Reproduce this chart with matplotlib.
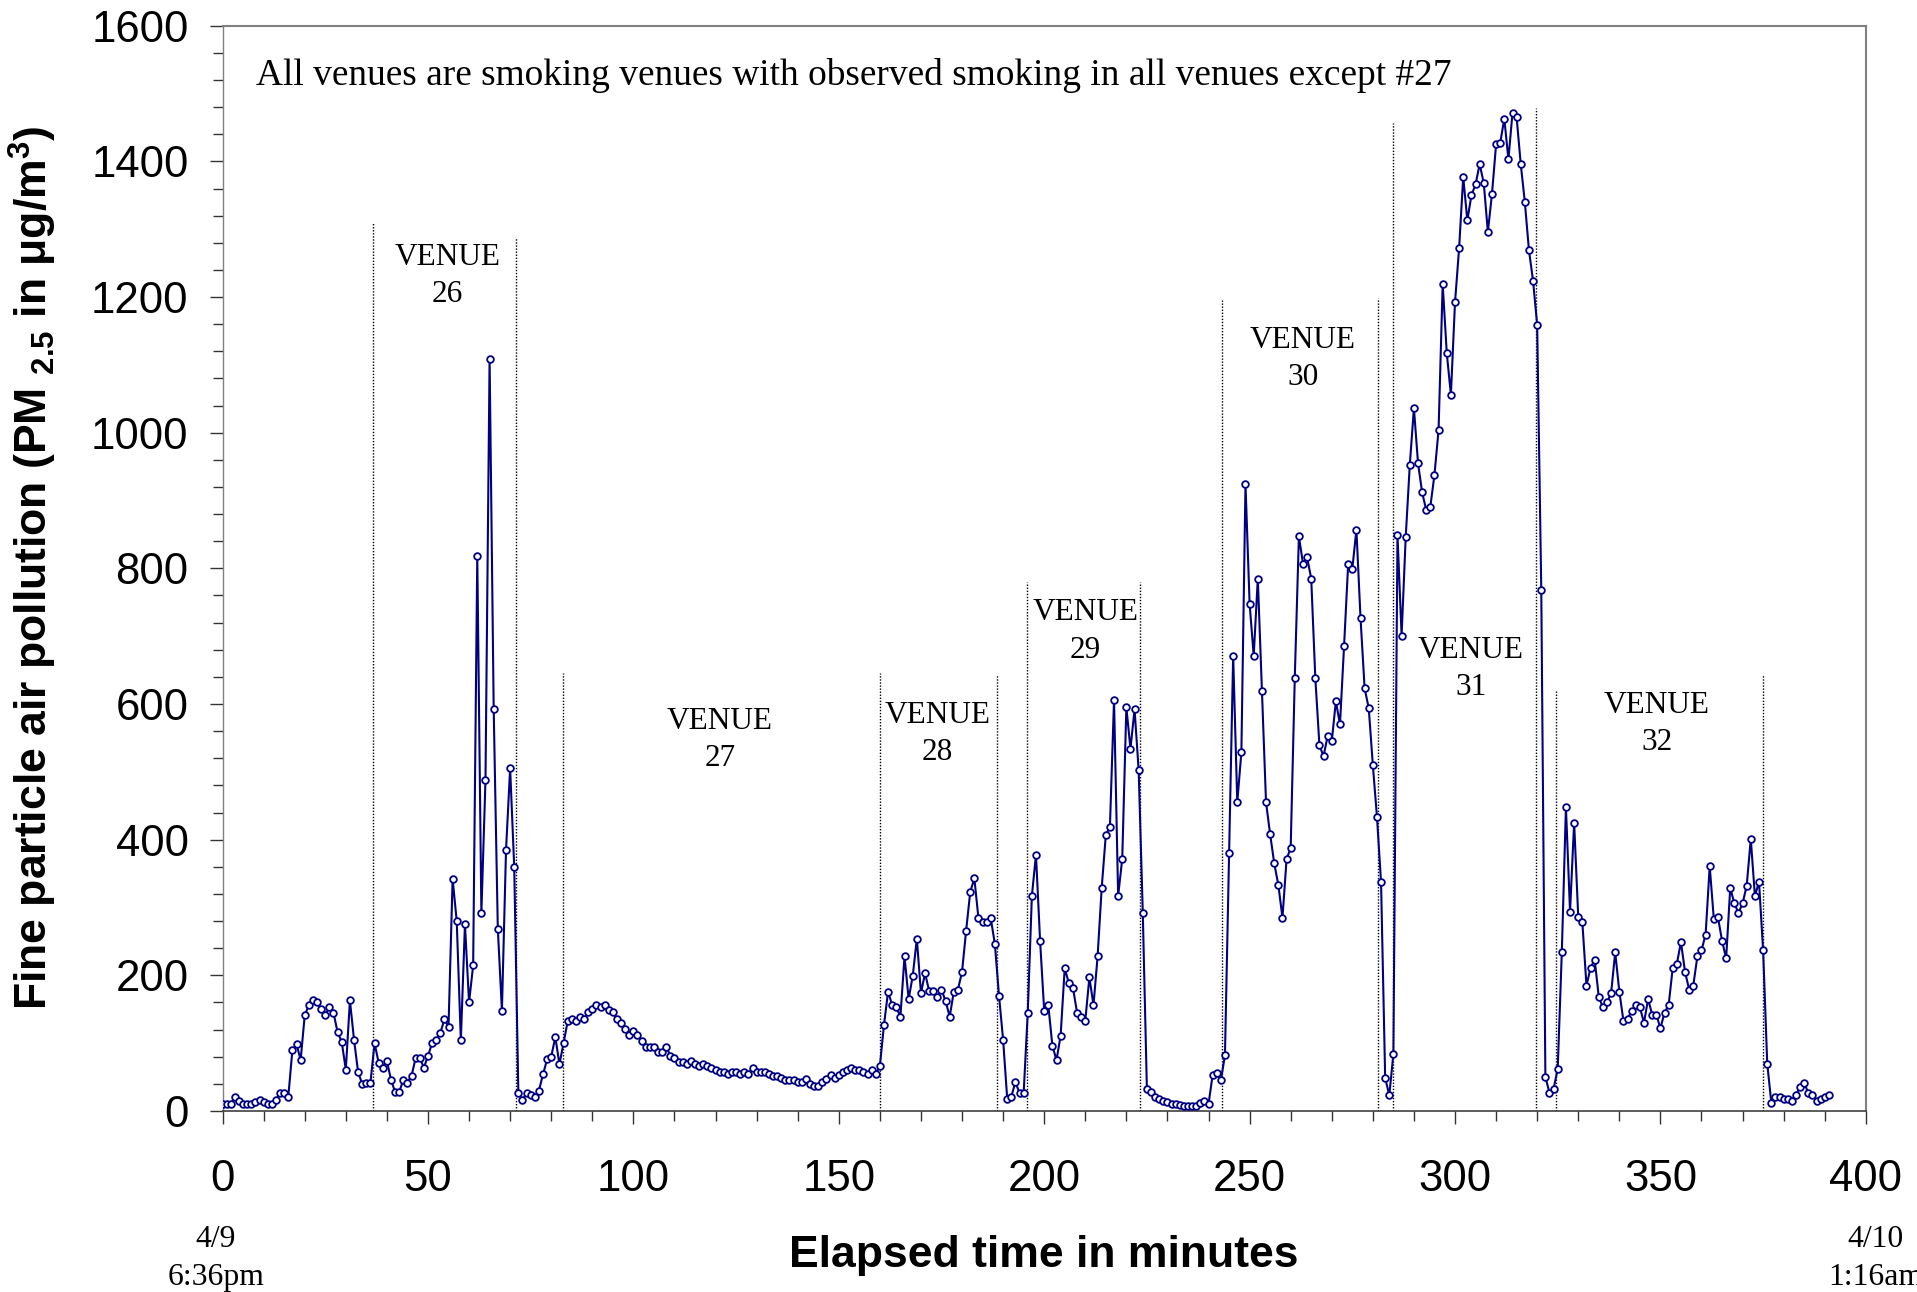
import numpy as np
import matplotlib
matplotlib.use("Agg")
import matplotlib.pyplot as plt
import matplotlib.transforms as mtransforms

# --- Data: PM2.5 readings, one per minute from 4/9 6:36pm ---
pm25 = [
    10, 10, 10, 21, 15, 10, 10, 10, 13, 16,
    13, 10, 10, 16, 27, 27, 21, 90, 99, 75,
    141, 156, 163, 160, 151, 141, 154, 145, 116, 102,
    61, 163, 105, 57, 40, 42, 42, 100, 71, 64,
    74, 46, 28, 28, 46, 42, 52, 78, 78, 64,
    81, 100, 104, 115, 135, 124, 342, 280, 104, 275,
    160, 215, 818, 292, 488, 1109, 592, 269, 148, 385,
    505, 359, 27, 16, 27, 24, 21, 30, 54, 76,
    80, 109, 69, 100, 132, 135, 132, 138, 135, 146,
    150, 156, 153, 156, 149, 146, 135, 129, 121, 112,
    118, 112, 103, 95, 95, 95, 87, 87, 95, 81,
    78, 72, 72, 69, 73, 69, 66, 69, 66, 63,
    60, 58, 58, 55, 58, 58, 55, 58, 55, 63,
    58, 58, 58, 55, 52, 52, 49, 46, 46, 46,
    43, 43, 47, 40, 37, 37, 43, 47, 53, 49,
    53, 57, 60, 63, 60, 61, 58, 55, 60, 55,
    66, 127, 176, 156, 153, 139, 228, 165, 199, 254,
    174, 203, 177, 177, 168, 179, 162, 139, 176, 179,
    205, 266, 323, 343, 284, 278, 278, 284, 246, 170,
    105, 18, 21, 43, 26, 26, 145, 317, 378, 251,
    148, 156, 96, 75, 111, 211, 188, 182, 145, 139,
    133, 197, 156, 228, 329, 407, 419, 606, 317, 372,
    595, 534, 592, 502, 292, 32, 28, 20, 17, 15,
    13, 10, 10, 9, 8, 8, 8, 8, 12, 15,
    10, 53, 56, 45, 82, 380, 671, 455, 529, 924,
    748, 671, 785, 619, 455, 408, 365, 333, 285, 371,
    388, 639, 847, 807, 816, 785, 638, 539, 523, 553,
    545, 604, 570, 686, 807, 799, 857, 727, 623, 594,
    510, 434, 337, 49, 23, 84, 849, 701, 846, 953,
    1036, 955, 912, 886, 891, 938, 1004, 1219, 1117, 1056,
    1192, 1272, 1377, 1313, 1350, 1366, 1396, 1368, 1296, 1352,
    1425, 1427, 1463, 1403, 1472, 1465, 1396, 1340, 1269, 1224,
    1159, 768, 50, 27, 33, 62, 234, 448, 294, 425,
    286, 278, 185, 211, 223, 168, 153, 160, 174, 234,
    176, 133, 136, 147, 156, 153, 130, 165, 142, 142,
    122, 145, 156, 211, 217, 249, 205, 179, 185, 228,
    237, 260, 361, 283, 286, 251, 225, 329, 306, 292,
    306, 332, 401, 317, 338, 237, 70, 12, 21, 21,
    18, 18, 15, 24, 35, 41, 27, 24, 15, 18,
    21, 24,
]
minutes = np.arange(len(pm25))

# venue boundaries (minutes) and height of the dotted marker lines
boundary_min = [36.6, 71.4, 82.8, 160.0, 188.5, 195.7, 223.3,
                243.2, 281.2, 285.0, 319.7, 324.6, 375.0]
boundary_top = [1310, 1289, 645, 646, 644, 780, 780,
                1196, 1198, 1456, 1478, 620, 644]

venue_names = ["26", "27", "28", "29", "30", "31", "32"]
venue_label_x = [54.7, 121.1, 174.0, 210.1, 263.0, 303.9, 349.2]
venue_label_y = [1231, 547, 556, 707, 1109, 652, 571]

note = "All venues are smoking venues with observed smoking in all venues except #27"

# --- Style ---
SERIF = "Liberation Serif"
SANS = "Liberation Sans"
NAVY = "#000080"
plt.rcParams["mathtext.fontset"] = "custom"
plt.rcParams["mathtext.rm"] = SANS
plt.rcParams["mathtext.bf"] = SANS + ":bold"

fig = plt.figure(figsize=(19.17, 12.92), dpi=100)
ax = fig.add_axes([0.1161, 0.1401, 0.8572, 0.8400])

ax.plot(minutes, pm25, color=NAVY, lw=1.5, marker="o", ms=4.8,
        mfc="white", mec=NAVY, mew=1.3, zorder=3)

ax.vlines(boundary_min, 0, boundary_top, colors="black",
          linestyles=(0, (1, 1.2)), lw=1.0, zorder=2)

for name, x, y in zip(venue_names, venue_label_x, venue_label_y):
    ax.text(x, y, "VENUE\n" + name, ha="center", va="center",
            fontsize=22.5, family=SERIF, linespacing=1.38)

ax.text(8.1, 1526, note, ha="left", va="center", fontsize=26.9, family=SERIF)

ax.set_xlim(0, 400)
ax.set_ylim(0, 1600)
ax.set_xticks(np.arange(0, 401, 50))
ax.set_xticks(np.arange(0, 401, 10), minor=True)
ax.set_yticks(np.arange(0, 1601, 200))
ax.set_yticks(np.arange(0, 1601, 40), minor=True)

ax.tick_params(axis="both", which="both", direction="out", width=1.0, color="#333333")
ax.tick_params(axis="both", which="major", length=9.5)
ax.tick_params(axis="both", which="minor", length=7.5)
ax.tick_params(axis="x", which="major", pad=25, labelsize=31.5)
ax.tick_params(axis="y", which="major", pad=15, labelsize=31.5)
for lab in ax.get_xticklabels() + ax.get_yticklabels():
    lab.set_family(SANS)

for side in ["top", "right", "left"]:
    ax.spines[side].set_color("#808080")
    ax.spines[side].set_linewidth(1.5)
ax.spines["left"].set_linewidth(1.0)
ax.spines["bottom"].set_color("#404040")
ax.spines["bottom"].set_linewidth(1.2)

ax.text(0.5, -0.133, "Elapsed time in minutes", transform=ax.transAxes,
        ha="center", va="center", fontsize=32, fontweight="bold", family=SANS)

fig.text(33 / 1917, 1 - 568 / 1292,
         r"Fine particle air pollution (PM $_{\mathbf{2.5}}$ in μg/m$^{\mathbf{3}}$)",
         rotation=90, ha="center", va="center", fontsize=32,
         fontweight="bold", family=SANS)

# clock times under the axis ends (the right one runs off the edge as in the original)
trans = mtransforms.blended_transform_factory(ax.transData, ax.transAxes)
ax.text(-1.6, -0.136, "4/9\n6:36pm", transform=trans, ha="center", va="center",
        fontsize=22.8, family=SERIF, linespacing=1.38, clip_on=False)
ax.text(402.3, -0.136, "4/10\n1:16am", transform=trans, ha="center", va="center",
        fontsize=22.8, family=SERIF, linespacing=1.38, clip_on=False)

fig.savefig("out.png", dpi=100, facecolor="white")
